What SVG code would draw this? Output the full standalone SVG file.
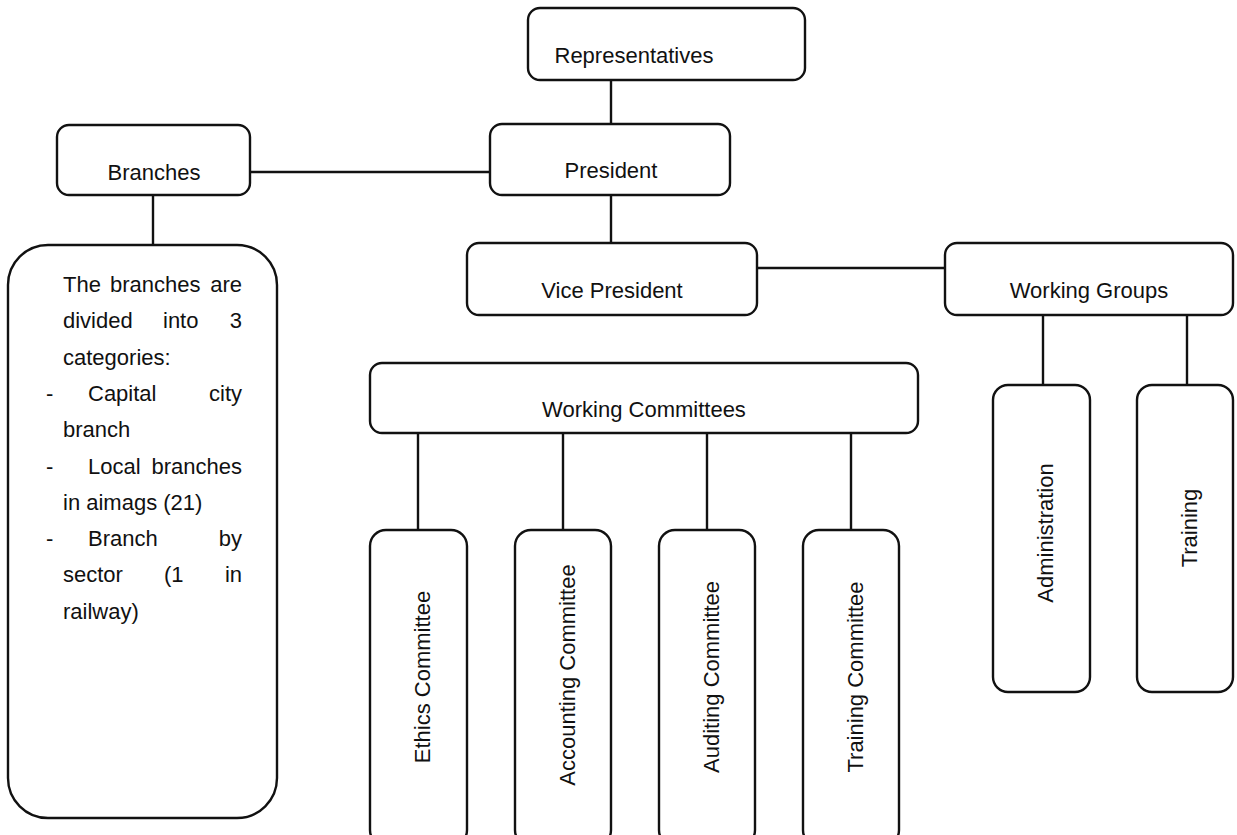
<svg xmlns="http://www.w3.org/2000/svg" width="1237" height="835" viewBox="0 0 1237 835">
<style>
  .box { fill: #ffffff; stroke: #111111; stroke-width: 2.4; }
  .conn line { stroke: #111111; stroke-width: 2.4; }
  text { font-family: "Liberation Sans", Arial, sans-serif; font-size: 22px; fill: #111111; }
  .c { text-anchor: middle; }
  .e { text-anchor: end; }
</style>
<rect width="1237" height="835" fill="#ffffff"/>
<g id="connectors" class="conn">
  <line x1="611" y1="80" x2="611" y2="124"/>
  <line x1="250" y1="172" x2="490" y2="172"/>
  <line x1="153" y1="195" x2="153" y2="245"/>
  <line x1="611" y1="195" x2="611" y2="243"/>
  <line x1="757" y1="268" x2="945" y2="268"/>
  <line x1="1043" y1="315" x2="1043" y2="385"/>
  <line x1="1187" y1="315" x2="1187" y2="385"/>
  <line x1="418" y1="433" x2="418" y2="530"/>
  <line x1="563" y1="433" x2="563" y2="530"/>
  <line x1="707" y1="433" x2="707" y2="530"/>
  <line x1="851" y1="433" x2="851" y2="530"/>
</g>
<g id="representatives">
  <rect class="box" x="528" y="8" width="277" height="72" rx="12"/>
  <text class="c" x="634" y="63">Representatives</text>
</g>
<g id="president">
  <rect class="box" x="490" y="124" width="240" height="71" rx="12"/>
  <text class="c" x="611" y="178">President</text>
</g>
<g id="branches">
  <rect class="box" x="57" y="125" width="193" height="70" rx="12"/>
  <text class="c" x="154" y="180">Branches</text>
</g>
<g id="branches-note">
  <rect class="box" x="8" y="245" width="269" height="573" rx="40"/>
  <text x="63" y="292">The</text><text x="110" y="292">branches</text><text class="e" x="242" y="292">are</text>
  <text x="63" y="328">divided</text><text x="163" y="328">into</text><text class="e" x="242" y="328">3</text>
  <text x="63" y="365">categories:</text>
  <text x="46" y="401">-</text><text x="88" y="401">Capital</text><text class="e" x="242" y="401">city</text>
  <text x="63" y="437">branch</text>
  <text x="46" y="474">-</text><text x="88" y="474">Local</text><text class="e" x="242" y="474">branches</text>
  <text x="63" y="510">in aimags (21)</text>
  <text x="46" y="546">-</text><text x="88" y="546">Branch</text><text class="e" x="242" y="546">by</text>
  <text x="63" y="582">sector</text><text x="164" y="582">(1</text><text class="e" x="242" y="582">in</text>
  <text x="63" y="619">railway)</text>
</g>
<g id="vice-president">
  <rect class="box" x="467" y="243" width="290" height="72" rx="12"/>
  <text class="c" x="612" y="298">Vice President</text>
</g>
<g id="working-groups">
  <rect class="box" x="945" y="243" width="288" height="72" rx="12"/>
  <text class="c" x="1089" y="298">Working Groups</text>
</g>
<g id="administration">
  <rect class="box" x="993" y="385" width="97" height="307" rx="15"/>
  <text class="c" transform="translate(1045,533) rotate(-90)" x="0" y="8">Administration</text>
</g>
<g id="training">
  <rect class="box" x="1137" y="385" width="96" height="307" rx="15"/>
  <text class="c" transform="translate(1189,528) rotate(-90)" x="0" y="8">Training</text>
</g>
<g id="working-committees">
  <rect class="box" x="370" y="363" width="548" height="70" rx="12"/>
  <text class="c" x="644" y="417">Working Committees</text>
</g>
<g id="ethics-committee">
  <rect class="box" x="370" y="530" width="97" height="316" rx="16"/>
  <text class="c" transform="translate(422,677) rotate(-90)" x="0" y="8">Ethics Committee</text>
</g>
<g id="accounting-committee">
  <rect class="box" x="515" y="530" width="96" height="316" rx="16"/>
  <text class="c" transform="translate(567,675) rotate(-90)" x="0" y="8">Accounting Committee</text>
</g>
<g id="auditing-committee">
  <rect class="box" x="659" y="530" width="96" height="316" rx="16"/>
  <text class="c" transform="translate(711,677) rotate(-90)" x="0" y="8">Auditing Committee</text>
</g>
<g id="training-committee">
  <rect class="box" x="803" y="530" width="96" height="316" rx="16"/>
  <text class="c" transform="translate(855,677) rotate(-90)" x="0" y="8">Training Committee</text>
</g>
</svg>
